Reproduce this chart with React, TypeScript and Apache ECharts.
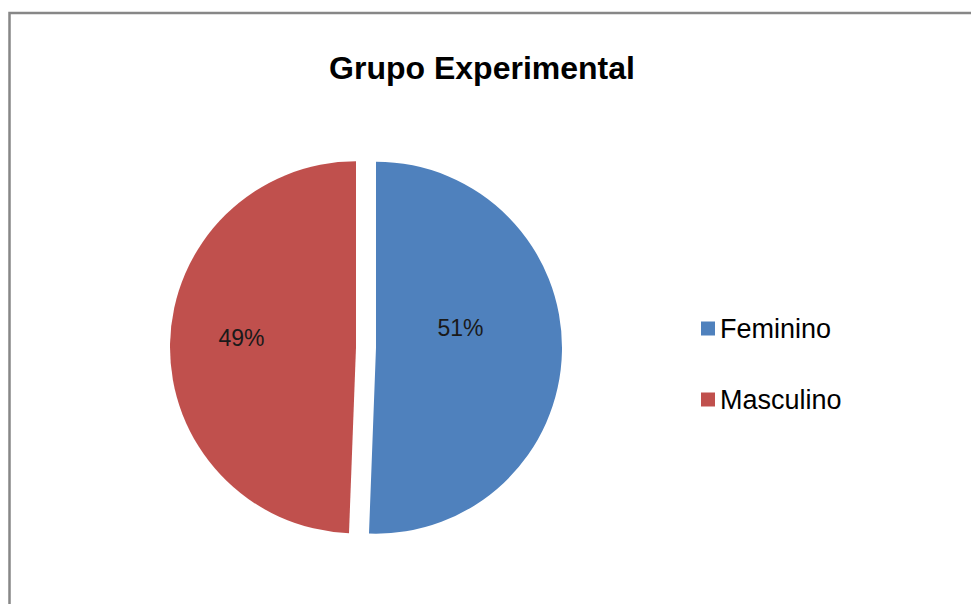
import React, { useEffect, useRef } from "react";
import * as echarts from "echarts";

const titleText = "Grupo Experimental";
const categories = ["Feminino", "Masculino"];
const values = [50.6, 49.4];
const colors = ["#4F81BD", "#C0504D"];
// nudges for the inside labels: right padding (shifts left), line height (shifts up)
const labelRightPads = [23, 37];
const labelLineHeights = [42, 16];

export default function App() {
  const ref = useRef<HTMLDivElement>(null);
  useEffect(() => {
    if (!ref.current) return;
    const chart = echarts.init(ref.current, null, { renderer: "svg" });
    chart.setOption({
      animation: false,
      backgroundColor: "#ffffff",
      title: {
        text: titleText,
        left: 477,
        top: 47,
        textAlign: "center",
        textStyle: {
          fontFamily: "Liberation Sans, Arial, sans-serif",
          fontSize: 32,
          fontWeight: "bold",
          color: "#000000",
        },
      },
      legend: {
        orient: "vertical",
        left: 696,
        top: 310,
        icon: "rect",
        itemWidth: 14,
        itemHeight: 14,
        itemGap: 44,
        selectedMode: false,
        data: categories,
        textStyle: {
          fontFamily: "Liberation Sans, Arial, sans-serif",
          fontSize: 27,
          color: "#000000",
        },
      },
      graphic: [
        {
          type: "rect",
          shape: { x: 9.5, y: 13, width: 1100, height: 800 },
          style: { fill: "none", stroke: "#878787", lineWidth: 2.5 },
          silent: true,
        },
      ],
      series: [
        {
          type: "pie",
          center: [366, 347.5],
          radius: 186,
          startAngle: 90,
          clockwise: true,
          selectedMode: "multiple",
          selectedOffset: 10,
          percentPrecision: 0,
          label: {
            show: true,
            position: "inside",
            formatter: "{d}%\n",
            fontFamily: "Liberation Sans, Arial, sans-serif",
            fontSize: 23,
            color: "#1a1a1a",
          },
          labelLine: { show: false },
          emphasis: { disabled: true },
          data: categories.map((name, i) => ({
            name,
            value: values[i],
            selected: true,
            itemStyle: { color: colors[i] },
            label: {
              padding: [0, labelRightPads[i], 0, 0],
              lineHeight: labelLineHeights[i],
            },
          })),
        },
      ],
    });
    return () => chart.dispose();
  }, []);
  return (
    <div
      ref={ref}
      style={{ position: "absolute", left: 0, top: 0, width: 971, height: 604 }}
    />
  );
}
